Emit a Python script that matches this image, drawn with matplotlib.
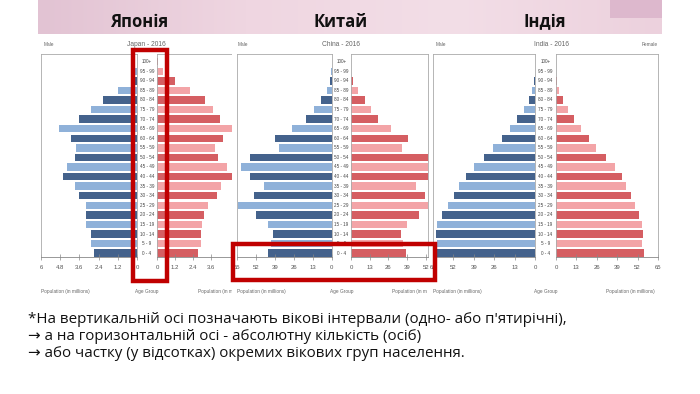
import numpy as np
import matplotlib.pyplot as plt
from matplotlib.patches import Rectangle
from matplotlib.colors import LinearSegmentedColormap
from matplotlib.transforms import blended_transform_factory

W, H = 700, 394

age_groups = ['0 - 4', '5 - 9', '10 - 14', '15 - 19', '20 - 24', '25 - 29', '30 - 34',
              '35 - 39', '40 - 44', '45 - 49', '50 - 54', '55 - 59', '60 - 64', '65 - 69',
              '70 - 74', '75 - 79', '80 - 84', '85 - 89', '90 - 94', '95 - 99', '100+']

# population in millions, from youngest to oldest group
japan_male = [2.7, 2.9, 2.9, 3.2, 3.2, 3.2, 3.6, 3.9, 4.6, 4.4, 3.9, 3.8, 4.1, 4.9,
              3.6, 2.9, 2.1, 1.2, 0.3, 0.1, 0.0]
japan_female = [2.7, 2.9, 2.9, 3.0, 3.1, 3.4, 4.0, 4.3, 5.0, 4.7, 4.1, 3.9, 4.4, 5.1,
                4.2, 3.7, 3.2, 2.2, 1.2, 0.4, 0.05]
china_male = [44, 42, 40.6, 44, 52.3, 64.3, 53.3, 46.6, 55.8, 62, 55.8, 36, 39, 27,
              17.7, 11.9, 7.6, 3.0, 1.1, 0.2, 0.0]
china_female = [38.3, 36.4, 34.8, 38.7, 47.6, 62, 51.5, 45.2, 54, 60, 54, 35.3, 39.9, 27.8,
                18.6, 13.9, 9.7, 4.6, 1.6, 0.3, 0.0]
india_male = [62.2, 62.2, 63, 62.6, 59.4, 55.2, 51.6, 48.2, 44, 38.6, 32.3, 26.5, 20.8, 15.9,
              11.3, 6.8, 3.6, 2.1, 0.6, 0.1, 0.0]
india_female = [55.9, 55.1, 55.5, 54.9, 53, 50.2, 48.1, 44.9, 42.2, 37.5, 31.6, 25.8, 20.8, 15.9,
                11.7, 7.4, 4.2, 2.1, 0.8, 0.2, 0.0]

titles = ['Японія', 'Китай', 'Індія']
chart_titles = ['Japan - 2016', 'China - 2016', 'India - 2016']
japan_ticks = [6, 4.8, 3.6, 2.4, 1.2, 0]
china_ticks = [65, 52, 39, 26, 13, 0]
india_ticks = [65, 52, 39, 26, 13, 0]

notes = ["*На вертикальній осі позначають вікові інтервали (одно- або п'ятирічні),",
         "→ а на горизонтальній осі - абсолютну кількість (осіб)",
         "→ або частку (у відсотках) окремих вікових груп населення."]

dark_blue, light_blue = '#44628c', '#8fb1d9'
dark_red, light_red = '#d55e62', '#f3a4a7'
small_font = ['Liberation Sans', 'DejaVu Sans']

fig = plt.figure(figsize=(7, 3.94), dpi=100)


def px_axes(x0, y0, x1, y1, z=1):
    return fig.add_axes([x0 / W, 1 - y1 / H, (x1 - x0) / W, (y1 - y0) / H], zorder=z)


# background: header band, titles and notes
bg = px_axes(0, 0, W, H, z=0)
bg.axis('off')
grad = np.linspace(0, 1, 256).reshape(1, -1)
band = LinearSegmentedColormap.from_list('band', ['#e2c3d3', '#efd6e1', '#f3dee7', '#ecd1dd'])
bg.imshow(grad, cmap=band, aspect='auto', extent=(38, 662, 34, 0))
bg.add_patch(Rectangle((610, 0), 52, 18, color='#dab2c9', alpha=0.8, lw=0))
for t, x in zip(titles, [139, 341, 545]):
    bg.text(x, 27, t, ha='center', va='baseline', fontsize=12, fontweight='bold',
            family='Open Sans', color='#111111')
for k, line in enumerate(notes):
    bg.text(28, 323 + 17 * k, line, ha='left', va='baseline', fontsize=10.9,
            family=['Open Sans', 'DejaVu Sans'], color='#111111')
bg.set_xlim(0, W)
bg.set_ylim(H, 0)

layout = [
    dict(male=japan_male, female=japan_female, crop=(38, 232), left=(41, 137), right=(157, 232),
         lmax=6.0, rmax=5.0, lticks=japan_ticks, rticks=japan_ticks[::-1][:4],
         head_x=146, male_x=44, rlab=(198, 'left', 'Population (in m'), female_lab=False),
    dict(male=china_male, female=china_female, crop=(232, 432), left=(237, 331.7), right=(351, 427.7),
         lmax=65, rmax=53.4, lticks=china_ticks, rticks=china_ticks[::-1][:5],
         head_x=341.5, male_x=238, rlab=(392, 'left', 'Population (in m'), female_lab=False),
    dict(male=india_male, female=india_female, crop=(432, 662), left=(433, 535), right=(556, 658),
         lmax=65, rmax=65, lticks=india_ticks, rticks=india_ticks[::-1],
         head_x=551, male_x=436, rlab=(655, 'right', 'Population (in millions)'), female_lab=True),
]

y = np.arange(len(age_groups))
colors_m = [dark_blue if i % 2 == 0 else light_blue for i in y]
colors_f = [dark_red if i % 2 == 0 else light_red for i in y]

for k, p in enumerate(layout):
    z = 2 + k * 3
    # white panel for the small texts of each cropped picture
    pan = px_axes(p['crop'][0], 36, p['crop'][1], 300, z=z)
    pan.set_xlim(p['crop'][0], p['crop'][1])
    pan.set_ylim(300, 36)
    pan.set_facecolor('white')
    for s in pan.spines.values():
        s.set_visible(False)
    pan.set_xticks([])
    pan.set_yticks([])
    kw = dict(family=small_font, color='#666666')
    pan.text(p['male_x'], 45, 'Male', fontsize=3.4, va='center', ha='left', **kw)
    pan.text(p['head_x'], 44, chart_titles[k], fontsize=4.8, va='center', ha='center', **kw)
    if p['female_lab']:
        pan.text(658, 45, 'Female', fontsize=3.4, va='center', ha='right', **kw)
    pan.text(p['left'][0], 292, 'Population (in millions)', fontsize=3.4, va='center', ha='left', **kw)
    pan.text((p['left'][1] + p['right'][0]) / 2, 292, 'Age Group', fontsize=3.4,
             va='center', ha='center', **kw)
    pan.text(p['rlab'][0], 292, p['rlab'][2], fontsize=3.4, va='center', ha=p['rlab'][1], **kw)

    axl = px_axes(p['left'][0], 54, p['left'][1], 257, z=z + 1)
    axr = px_axes(p['right'][0], 54, p['right'][1], 257, z=z + 1)
    axl.barh(y, p['male'], height=0.78, color=colors_m)
    axr.barh(y, p['female'], height=0.78, color=colors_f)
    axl.set_xlim(p['lmax'], 0)
    axr.set_xlim(0, p['rmax'])
    axl.set_xticks(p['lticks'])
    axr.set_xticks(p['rticks'])
    for ax in (axl, axr):
        ax.set_ylim(-0.4, 20.8)
        ax.set_yticks([])
        ax.set_xticklabels(['%g' % v for v in ax.get_xticks()], family=small_font)
        ax.tick_params(axis='x', direction='inout', length=5, width=0.5, color='#888888',
                       labelsize=4.3, labelcolor='#555555', pad=3)
        for s in ax.spines.values():
            s.set_color('#aaaaaa')
            s.set_linewidth(0.6)
        ax.spines['bottom'].set_color('#888888')

    # age labels in the middle column, on top of the bar axes
    mid = px_axes(p['left'][1], 54, p['right'][0], 257, z=z + 2)
    mid.set_ylim(-0.4, 20.8)
    mid.set_xlim(0, 1)
    mid.axis('off')
    for i, lab in enumerate(age_groups):
        mid.text(0.5, i, lab, ha='center', va='center', fontsize=3.3,
                 family=small_font, color='#444444', clip_on=False)

# red highlight frames
ov = px_axes(0, 0, W, H, z=20)
ov.set_xlim(0, W)
ov.set_ylim(H, 0)
ov.axis('off')
ov.add_patch(Rectangle((132.5, 49.5), 34, 231, fill=False, ec='#c00000', lw=3.2))
ov.add_patch(Rectangle((233, 244), 202, 36, fill=False, ec='#c00000', lw=3.2))

fig.savefig('out.png', dpi=100)
